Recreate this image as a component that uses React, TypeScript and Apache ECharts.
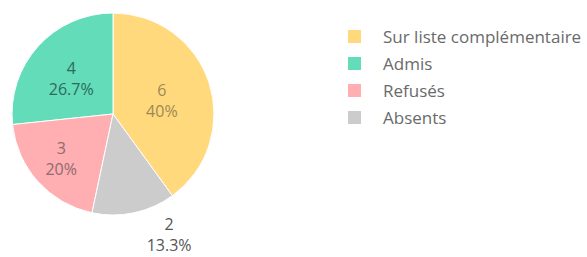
import React, { useEffect, useRef } from "react";
import * as echarts from "echarts";

const categories = ["Sur liste complémentaire", "Admis", "Refusés", "Absents"];
const values = [6, 4, 3, 2];
const percents = ["40%", "26.7%", "20%", "13.3%"];
const sliceColors = ["#FFD97C", "#62DCB9", "#FFAEB2", "#CCCCCC"];
const labelColors = ["#9c8a55", "#2f6a5b", "#8f6a6e", "#555555"];
const labelOffsets = [[-2, 3], [-2, 0], [-12, 9], [45, 68]];

export default function App() {
  const ref = useRef<HTMLDivElement>(null);
  useEffect(() => {
    if (!ref.current) return;
    const chart = echarts.init(ref.current, null, { renderer: "svg" });
    chart.setOption({
      animation: false,
      legend: {
        orient: "vertical",
        left: 341,
        top: 23,
        itemWidth: 15,
        itemHeight: 15,
        itemGap: 10,
        icon: "rect",
        data: categories,
        textStyle: {
          fontFamily: "Open Sans",
          fontSize: 17,
          lineHeight: 15,
          color: "#6a6a6a",
          padding: [0, 0, 0, 16],
        },
      },
      series: [
        {
          type: "pie",
          center: [113, 114],
          radius: 101,
          clockwise: false,
          startAngle: -54,
          itemStyle: { borderColor: "#ffffff", borderWidth: 1 },
          labelLine: { show: false },
          emphasis: { disabled: true },
          data: categories.map((name, i) => ({
            name,
            value: values[i],
            itemStyle: { color: sliceColors[i] },
            label: {
              show: true,
              position: "inside",
              offset: labelOffsets[i],
              color: labelColors[i],
              fontFamily: "Open Sans",
              fontSize: 16,
              lineHeight: 21,
              formatter: () => `${values[i]}\n${percents[i]}`,
            },
          })),
        },
      ],
    });
    return () => chart.dispose();
  }, []);
  return (
    <div
      ref={ref}
      style={{ position: "absolute", left: 0, top: 0, width: 587, height: 257, background: "#fff" }}
    />
  );
}
